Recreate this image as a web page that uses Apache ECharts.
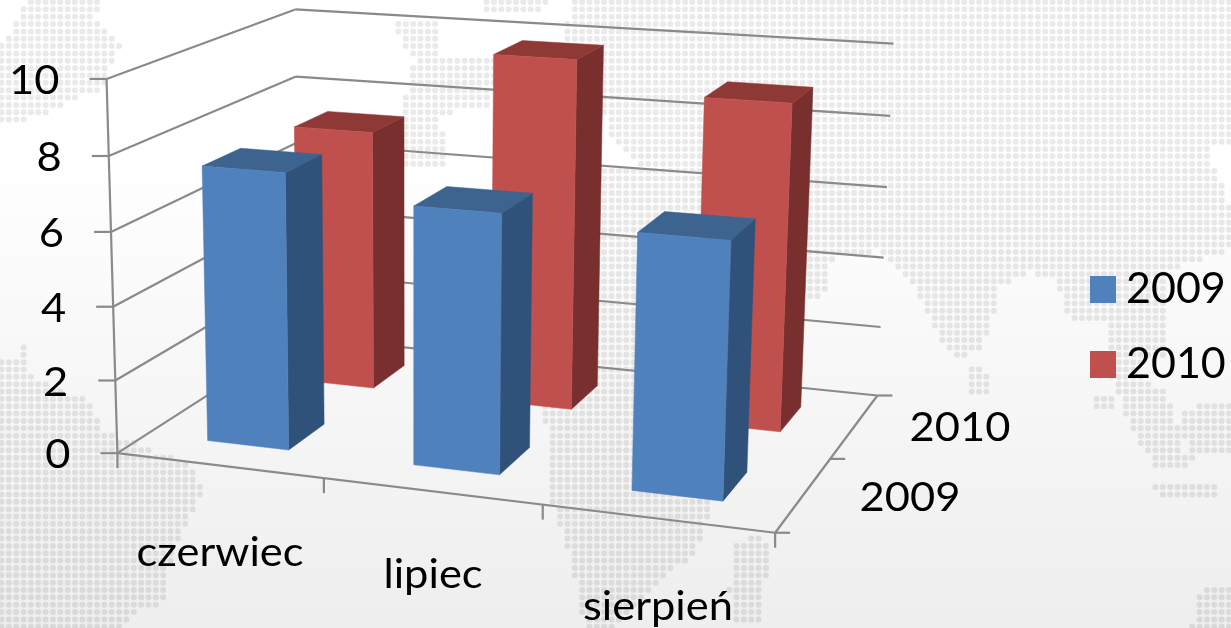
<!DOCTYPE html>
<html><head><meta charset="utf-8">
<style>html,body{margin:0;padding:0;background:#fff}#c{width:1231px;height:628px}</style>
<script src="https://cdn.jsdelivr.net/npm/echarts@6/dist/echarts.min.js"></script>
</head><body><div id="c"></div>
<script>
// ---- data ----
const categories = ['czerwiec', 'lipiec', 'sierpień'];
const years = ['2009', '2010'];
const values2009 = [7.5, 6.9, 6.7];
const values2010 = [7.4, 9.8, 9.0];
const valueTicks = [0, 2, 4, 6, 8, 10];

// ---- style / layout ----
const FONT = 'Lato, Carlito, "Open Sans", sans-serif';
const LABEL_SIZE = 41;
const LABEL_STRETCH = 1.06;
const AXIS_COLOR = '#8a8a8a';
const faces = {
  '2009': { front: '#4f81bd', side: '#30527a', top: '#3c648f' },
  '2010': { front: '#c0504d', side: '#792f2d', top: '#8f3937' }
};
const GAP = 1.5;   // gap width and gap depth, as share of the bar
const calibration = [ // box corner (x,depth,height) -> picture position
  [0,0,0,119,452],[1,0,0,775,534],[1,1,0,878,394],[0,1,0,297,338],
  [0,0,1,105,79],[0,1,1,297,9],[1,1,1,893,44]
];
const catLabelPos = [[220,553],[433,575],[658,607]];
const yearLabelPos = [[910,498],[960,428]];
const land = [
  [[25,0],[100,0],[96,20],[108,28],[120,42],[118,55],[105,68],[110,88],[68,100],[48,114],[5,125],[0,125],[0,42],[18,22]],
  [[0,357],[20,357],[35,378],[90,402],[105,432],[160,452],[195,470],[202,492],[185,530],[170,562],[165,602],[135,612],[120,628],[0,628]],
  [[18,342],[26,342],[26,358],[18,358]],
  [[390,25],[440,18],[440,60],[412,60]],
  [[415,60],[500,55],[490,105],[440,115],[450,165],[405,170],[400,118]],
  [[482,0],[553,0],[540,12],[482,12]],
  [[570,10],[570,0],[1231,0],[1231,142],[1205,150],[1231,205],[1231,250],[1195,262],[1165,270],[1163,322],[1070,322],[1055,280],[1030,272],[1000,285],[993,320],[978,350],[960,362],[940,345],[923,300],[900,270],[880,250],[860,255],[830,260],[828,295],[810,300],[760,260],[720,180],[640,170],[610,135],[600,100],[560,60]],
  [[640,170],[730,180],[775,270],[760,340],[745,420],[712,500],[698,548],[655,590],[615,628],[585,628],[570,560],[550,500],[545,420],[530,290],[560,210],[590,170]],
  [[500,180],[590,170],[540,260],[530,300],[490,245]],
  [[735,546],[762,530],[770,555],[760,620],[735,620],[728,590]],
  [[1105,322],[1170,322],[1165,355],[1132,368],[1168,395],[1190,470],[1160,472],[1130,430],[1112,380],[1105,350]],
  [[965,365],[985,365],[990,392],[968,392]],
  [[1178,410],[1231,400],[1231,455],[1190,458]],
  [[1150,482],[1215,482],[1215,495],[1162,495]],
  [[1090,396],[1112,396],[1112,408],[1090,408]],
  [[1200,590],[1231,585],[1231,628],[1190,628]]
];

// ---- projection solved from the calibration corners ----
function solveProjection(pts) {
  const rows = [], rhs = [];
  pts.forEach(([x,y,z,u,v]) => {
    rows.push([x,y,z,1,0,0,0,0,-u*x,-u*y,-u*z]); rhs.push(u);
    rows.push([0,0,0,0,x,y,z,1,-v*x,-v*y,-v*z]); rhs.push(v);
  });
  const n = 11, A = [];
  for (let i = 0; i < n; i++) {
    A[i] = [];
    for (let j = 0; j < n; j++) A[i][j] = rows.reduce((s,r)=>s+r[i]*r[j],0);
    A[i][n] = rows.reduce((s,r,k)=>s+r[i]*rhs[k],0);
  }
  for (let c = 0; c < n; c++) {
    let p = c;
    for (let r = c+1; r < n; r++) if (Math.abs(A[r][c]) > Math.abs(A[p][c])) p = r;
    [A[c],A[p]] = [A[p],A[c]];
    for (let r = 0; r < n; r++) if (r !== c) {
      const f = A[r][c]/A[c][c];
      for (let k = c; k <= n; k++) A[r][k] -= f*A[c][k];
    }
  }
  return A.map((r,i)=>r[n]/r[i]);
}
const M = solveProjection(calibration);
function project(x,y,z) {
  const w = M[8]*x+M[9]*y+M[10]*z+1;
  return [(M[0]*x+M[1]*y+M[2]*z+M[3])/w,(M[4]*x+M[5]*y+M[6]*z+M[7])/w];
}

// ---- dotted map background ----
function inside(p,poly){let c=false;for(let i=0,j=poly.length-1;i<poly.length;j=i++){
  const a=poly[i],b=poly[j];
  if((a[1]>p[1])!==(b[1]>p[1])&&p[0]<(b[0]-a[0])*(p[1]-a[1])/(b[1]-a[1])+a[0])c=!c;}return c;}
const bg = document.createElement('canvas'); bg.width = 1231; bg.height = 628;
(function(){
  const g = bg.getContext('2d');
  const shade = y => y < 150 ? 255 : Math.round(255 - 17*(y-150)/478);
  const gr = g.createLinearGradient(0,150,0,628);
  gr.addColorStop(0,'#ffffff'); gr.addColorStop(1,'#eeeeee');
  g.fillStyle = '#fff'; g.fillRect(0,0,1231,628);
  g.fillStyle = gr; g.fillRect(0,150,1231,478);
  const step = 7.35;
  for (let r = 0; r*step < 632; r++) for (let c = 0; c*step < 1235; c++) {
    const x = c*step+1.5, y = r*step+2;
    if (!land.some(poly=>inside([x,y],poly))) continue;
    const s = shade(y)-21;
    g.fillStyle = `rgb(${s},${s},${s})`;
    g.beginPath(); g.arc(x,y,3,0,Math.PI*2); g.fill();
  }
})();

// ---- marks ----
const poly = (pts,fill) => ({type:'polygon',shape:{points:pts},style:{fill,stroke:fill,lineWidth:0.5}});
const line = (a,b,w) => ({type:'line',shape:{x1:a[0],y1:a[1],x2:b[0],y2:b[1]},style:{stroke:AXIS_COLOR,lineWidth:w||2.2}});
const label = (t,x,y,align) => ({type:'text',x,y,scaleX:LABEL_STRETCH,style:{text:t,x:0,y:0,align:align||'center',verticalAlign:'middle',font:`${LABEL_SIZE}px ${FONT}`,fill:'#000'}});

function renderFrame(params, api) {
  const out = [];
  const zMax = valueTicks[valueTicks.length-1];
  valueTicks.forEach(t => {
    const z = t/zMax, a = project(0,0,z), b = project(0,1,z), c = project(1,1,z);
    out.push(line(a,b), line(b,c), line(a,[a[0]-17,a[1]]));
    out.push(label(String(t), a[0]-47, a[1]+2, 'right'));
  });
  out.push(line(project(0,0,0),project(0,0,1)));
  const o = project(0,0,0), e = project(1,0,0), f = project(1,1,0);
  out.push(line(o,e), line(e,f));
  categories.forEach((n,i) => { out.push(label(n,catLabelPos[i][0],catLabelPos[i][1])); });
  for (let i = 0; i <= categories.length; i++) {
    const p = project(i/categories.length,0,0);
    out.push(line(p,[p[0],p[1]+15]));
  }
  for (let j = 0; j <= years.length; j++) {
    const p = project(1,j/years.length,0);
    out.push(line(p,[p[0]+15,p[1]]));
  }
  years.forEach((n,j) => { out.push(label(n,yearLabelPos[j][0],yearLabelPos[j][1])); });
  return {type:'group',children:out};
}
function barRenderer(yearIndex) {
  return function(params, api) {
    const i = api.value(0), z = api.value(1)/valueTicks[valueTicks.length-1];
    const nc = categories.length, ny = years.length, m = GAP/(1+GAP)/2;
    const x0 = (i+m)/nc, x1 = (i+1-m)/nc, y0 = (yearIndex+m)/ny, y1 = (yearIndex+1-m)/ny;
    const col = faces[years[yearIndex]];
    return {type:'group',children:[
      poly([project(x1,y0,0),project(x1,y1,0),project(x1,y1,z),project(x1,y0,z)],col.side),
      poly([project(x0,y0,z),project(x1,y0,z),project(x1,y1,z),project(x0,y1,z)],col.top),
      poly([project(x0,y0,0),project(x1,y0,0),project(x1,y0,z),project(x0,y0,z)],col.front)
    ]};
  };
}
const rowsOf = vals => vals.map((v,i)=>[i,v]);
const chart = echarts.init(document.getElementById('c'),null,{renderer:'canvas'});
chart.setOption({
  animation:false,
  backgroundColor:{image:bg,repeat:'no-repeat'},
  grid:{left:0,right:0,top:0,bottom:0,show:false},
  xAxis:{type:'category',data:categories,show:false},
  yAxis:{type:'value',min:0,max:10,interval:2,show:false},
  legend:{
    data:years,orient:'vertical',left:1085,top:263,itemWidth:26,itemHeight:27,itemGap:32,
    icon:'rect',selectedMode:false,
    textStyle:{fontFamily:FONT,fontSize:43,color:'#000',padding:[0,0,0,5]}
  },
  series:[
    {type:'custom',name:'frame',silent:true,renderItem:renderFrame,data:[[0,0]],z:1},
    {type:'custom',name:years[1],silent:true,renderItem:barRenderer(1),data:rowsOf(values2010),z:2,
      itemStyle:{color:faces['2010'].front}},
    {type:'custom',name:years[0],silent:true,renderItem:barRenderer(0),data:rowsOf(values2009),z:3,
      itemStyle:{color:faces['2009'].front}}
  ]
});
</script></body></html>
